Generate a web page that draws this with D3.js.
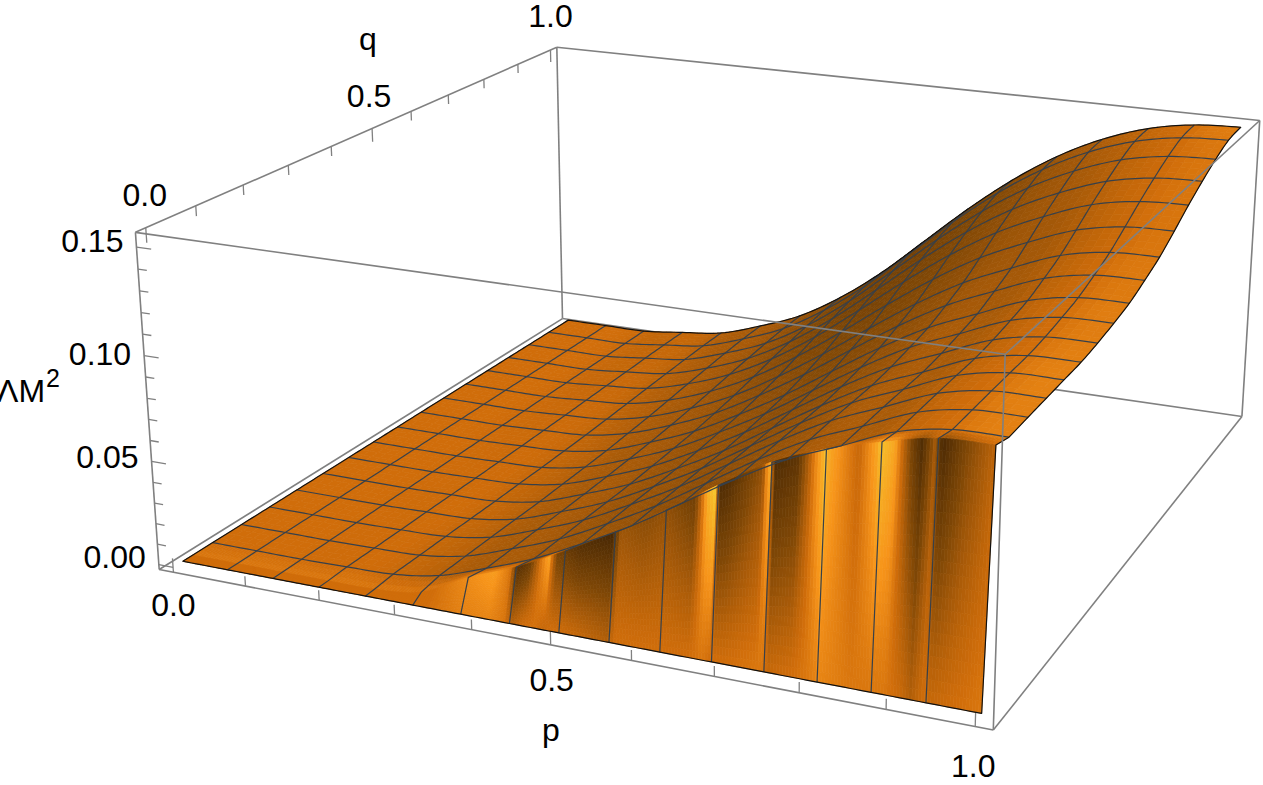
<!DOCTYPE html>
<html>
<head>
<meta charset="utf-8">
<title>Lambda M squared surface</title>
<script src="https://cdnjs.cloudflare.com/ajax/libs/d3/7.8.5/d3.min.js"></script>
<style>
html, body { margin: 0; padding: 0; background: #fff; overflow: hidden; }
text { font-family: "Liberation Sans", Arial, sans-serif; fill: #000; }
</style>
</head>
<body>
<div id="vis"></div>
<script>
var width = 1263,
    height = 785;

var meshCount = 16;
var zRows = [
    [0, 0, 0, .0004, .0010, .0045, .0120, .0205, .0315, .0435, .0575, .0715, .0840, .0935, .1030, .1075, .1079],
    [0, 0, 0, .0004, .0010, .0046, .0121, .0206, .0317, .0438, .0578, .0719, .0844, .0939, .1034, .1079, .1083],
    [0, 0, 0, .0004, .0011, .0047, .0122, .0208, .0320, .0441, .0582, .0723, .0849, .0944, .1038, .1083, .1086],
    [0, 0, 0, .0005, .0011, .0047, .0122, .0208, .0320, .0443, .0584, .0725, .0851, .0946, .1041, .1086, .1089],
    [0, 0, 0, .0005, .0011, .0047, .0123, .0209, .0321, .0444, .0586, .0727, .0853, .0948, .1043, .1088, .1092],
    [0, 0, 0, .0005, .0013, .0050, .0126, .0214, .0327, .0452, .0595, .0738, .0864, .0960, .1054, .1099, .1104],
    [0, 0, 0, .0006, .0014, .0053, .0130, .0220, .0336, .0464, .0610, .0754, .0882, .0979, .1072, .1117, .1122],
    [0, 0, 0, .0007, .0017, .0057, .0135, .0227, .0347, .0479, .0628, .0774, .0903, .1001, .1094, .1139, .1144],
    [0, 0, 0, .0009, .0020, .0065, .0143, .0240, .0365, .0505, .0659, .0809, .0940, .1040, .1131, .1176, .1182],
    [0, 0, 0, .0011, .0025, .0073, .0153, .0255, .0386, .0534, .0694, .0848, .0982, .1084, .1174, .1218, .1225],
    [0, 0, 0, .0014, .0031, .0084, .0166, .0275, .0415, .0574, .0743, .0902, .1039, .1144, .1232, .1276, .1284],
    [0, 0, 0, .0017, .0037, .0096, .0180, .0297, .0445, .0616, .0794, .0959, .1100, .1208, .1294, .1337, .1347],
    [0, 0, 0, .0019, .0043, .0106, .0193, .0316, .0472, .0654, .0840, .1011, .1155, .1265, .1349, .1392, .1403],
    [0, 0, 0, .0022, .0048, .0116, .0204, .0333, .0497, .0688, .0881, .1056, .1203, .1316, .1398, .1441, .1453],
    [0, 0, 0, .0024, .0052, .0123, .0213, .0347, .0515, .0713, .0912, .1091, .1240, .1355, .1435, .1478, .1491],
    [0, 0, 0, .0024, .0053, .0125, .0215, .0350, .0520, .0720, .0920, .1100, .1250, .1365, .1445, .1488, .1501]
];

// the steep rise next to q = 0: rim height per p = k/16 and brightness stripes along p
var wallQ = 0.02;
var wallTopZ = [0, 0, 0, 0, .0002, .0030, .0140, .0228, .0341, .0465, .0601, .0748, .0884, .0975, .1041, .1093, .1101];
var wallP = [0, .33, .375, .41, .43, .44, .455, .47, .48, .49, .52, .56, .57, .60, .625, .66, .675, .685, .69, .70, .74, .7475, .755, .78, .80, .8125, .817, .85, .87, .875, .89, .91, .92, .935, .942, .97, 1];
var wallTopShade = [1, 1, 1.15, 1.25, 1.05, .30, .45, 1.05, 1.30, .55, .30, .20, .75, .65, .70, .50, 1.35, 1.50, .25, .28, .70, 1.40, .25, .35, 1.10, 1.45, 1.30, .95, 1.30, 1.45, 1.30, .50, .25, .80, .20, .60, .90];
var wallFootShade = [1, 1, 1.10, 1.12, 1.05, .85, 1.0, 1.02, .95, 1.0, .95, .85, 1.0, 1.0, 1.0, 1.0, 1.05, 1.0, 1.0, 1.0, 1.05, 1.05, .95, 1.0, 1.05, 1.12, 1.12, 1.05, 1.05, 1.05, 1.05, .95, .85, 1.0, .95, 1.0, 1.05];

var pTicks = d3.range(0, 11).map(function (d) { return d / 10; });
var qTicks = pTicks.slice();
var zTicks = d3.range(0, 16).map(function (d) { return d / 100; });
var pLabels = [0, 0.5, 1];
var qLabels = [0, 0.5, 1];
var zLabels = [0, 0.05, 0.10, 0.15];

var sx = d3.scaleLinear().domain([-0.02, 1.02]).range([0, 1]);
var sy = d3.scaleLinear().domain([-0.02, 1.02]).range([0, 1]);
var sz = d3.scaleLinear().domain([-0.0024, 0.1567]).range([0, 1]);

// the heights above were read against a slightly shorter z range than the ticks show
var zRead = 1.027;

// camera fitted to where the eight box corners land in the picture
var cameraFit = [
    [0, 0, 0, 160, 570], [1, 0, 0, 993, 731], [0, 1, 0, 562, 318], [1, 1, 0, 1242, 416],
    [0, 0, 1, 135, 233], [1, 0, 1, 1005, 352], [0, 1, 1, 557, 47], [1, 1, 1, 1260, 122]
];

function fitCamera(points) {
    var n = 11, rows = [];
    points.forEach(function (c) {
        rows.push([c[0], c[1], c[2], 1, 0, 0, 0, 0, -c[3] * c[0], -c[3] * c[1], -c[3] * c[2], c[3]]);
        rows.push([0, 0, 0, 0, c[0], c[1], c[2], 1, -c[4] * c[0], -c[4] * c[1], -c[4] * c[2], c[4]]);
    });
    var m = d3.range(n).map(function (i) {
        return d3.range(n + 1).map(function (j) {
            return d3.sum(rows, function (r) { return r[i] * r[j]; });
        });
    });
    for (var i = 0; i < n; i++) {
        var best = i;
        for (var r = i + 1; r < n; r++) if (Math.abs(m[r][i]) > Math.abs(m[best][i])) best = r;
        var tmp = m[i]; m[i] = m[best]; m[best] = tmp;
        for (var r2 = 0; r2 < n; r2++) {
            if (r2 === i) continue;
            var f = m[r2][i] / m[i][i];
            for (var c = i; c <= n; c++) m[r2][c] -= f * m[i][c];
        }
    }
    return m.map(function (row, i) { return row[n] / row[i]; });
}
var cam = fitCamera(cameraFit);

function project(p, q, z) {
    var X = sx(p), Y = sy(q), Z = sz(z);
    var w = cam[8] * X + cam[9] * Y + cam[10] * Z + 1;
    return [(cam[0] * X + cam[1] * Y + cam[2] * Z + cam[3]) / w,
            (cam[4] * X + cam[5] * Y + cam[6] * Z + cam[7]) / w];
}

// Catmull-Rom through evenly spaced values, t in 0..1
function smooth(v, t) {
    var n = v.length - 1;
    var i = Math.min(Math.floor(t * n), n - 1);
    var u = t * n - i;
    var a = v[Math.max(i - 1, 0)], b = v[i], c = v[i + 1], d = v[Math.min(i + 2, n)];
    return 0.5 * (2 * b + (c - a) * u + (2 * a - 5 * b + 4 * c - d) * u * u + (3 * b - a - 3 * c + d) * u * u * u);
}

var firstQ = 1 / meshCount;

function upperZ(p, q) {
    var col = zRows.map(function (r) { return smooth(r, p); });
    return smooth(col, (q - firstQ) / (1 - firstQ));
}

function surfaceZ(p, q) {
    if (q >= firstQ) return upperZ(p, q);
    var top = smooth(wallTopZ, p);
    if (q >= wallQ) return top + (upperZ(p, firstQ) - top) * (q - wallQ) / (firstQ - wallQ);
    return top * q / wallQ;
}

function surfacePoint(p, q) {
    return project(p, q, surfaceZ(p, q) * zRead);
}

var shadeColor = d3.scaleLinear()
    .domain([0, .25, .6, 1, 1.2, 1.5])
    .range(["#2e1a03", "#4f2c04", "#7f4706", "#d06d0a", "#f7941a", "#f6c92e"])
    .clamp(true);

var topShade = d3.scaleLinear().domain(wallP).range(wallTopShade);
var footShade = d3.scaleLinear().domain(wallP).range(wallFootShade);

function surfaceShade(p, q) {
    var e = 0.01;
    var gp = (upperZ(Math.min(p + e, 1), q) - upperZ(Math.max(p - e, 0), q)) / (Math.min(p + e, 1) - Math.max(p - e, 0));
    var gq = (upperZ(p, Math.min(q + e, 1)) - upperZ(p, Math.max(q - e, firstQ))) / (Math.min(q + e, 1) - Math.max(q - e, firstQ));
    return 1 - 1.5 * gp - 0.5 * gq + 0.1 * p * p * p;
}

var svg = d3.select("#vis").append("svg")
    .attr("width", width)
    .attr("height", height)
    .attr("viewBox", [0, 0, width, height])
    .style("display", "block");

var boxColor = "#808080";
var lo = -0.02, hi = 1.02, zlo = sz.domain()[0], zhi = sz.domain()[1];

function edge(g, a, b) {
    var pa = project(a[0], a[1], a[2]), pb = project(b[0], b[1], b[2]);
    g.append("line")
        .attr("x1", pa[0]).attr("y1", pa[1])
        .attr("x2", pb[0]).attr("y2", pb[1])
        .attr("stroke", boxColor)
        .attr("stroke-width", 1.6);
}

// back of the box goes under the surface
var back = svg.append("g");
edge(back, [lo, hi, zlo], [hi, hi, zlo]);
edge(back, [lo, lo, zlo], [lo, hi, zlo]);
edge(back, [lo, hi, zlo], [lo, hi, zhi]);
edge(back, [hi, hi, zlo], [hi, hi, zhi]);
edge(back, [lo, hi, zhi], [hi, hi, zhi]);
edge(back, [lo, lo, zhi], [lo, hi, zhi]);
edge(back, [lo, lo, zlo], [lo, lo, zhi]);
edge(back, [lo, lo, zlo], [hi, lo, zlo]);
edge(back, [hi, lo, zlo], [hi, hi, zlo]);

// ticks
var ticks = svg.append("g");
pTicks.forEach(function (d) {
    var major = pLabels.indexOf(d) >= 0;
    edge(ticks, [d, lo, zlo], [d, lo, zlo + (major ? .0068 : .0048)]);
});
qTicks.forEach(function (d) {
    var major = qLabels.indexOf(d) >= 0;
    edge(ticks, [lo, d, zhi], [lo, d, zhi - (major ? .0068 : .0048)]);
});
zTicks.forEach(function (d) {
    var major = d % 0.05 < 1e-9 || d % 0.05 > 0.05 - 1e-9;
    edge(ticks, [lo, lo, d], [lo + (major ? .02 : .012), lo, d]);
});
ticks.selectAll("line").attr("stroke-width", 1.3);

// surface cells, back to front
var cells = [];
var pSteps = meshCount * 5, qSteps = (meshCount - 1) * 4;
d3.range(qSteps - 1, -1, -1).forEach(function (j) {
    var q0 = firstQ + (1 - firstQ) * j / qSteps, q1 = firstQ + (1 - firstQ) * (j + 1) / qSteps;
    d3.range(pSteps).forEach(function (i) {
        var p0 = i / pSteps, p1 = (i + 1) / pSteps;
        cells.push({
            pts: [[p0, q0], [p1, q0], [p1, q1], [p0, q1]].map(function (d) { return surfacePoint(d[0], d[1]); }),
            shade: surfaceShade((p0 + p1) / 2, (q0 + q1) / 2)
        });
    });
});

// rim between the wall top and the first mesh row
var rimSteps = 3;
d3.range(rimSteps - 1, -1, -1).forEach(function (j) {
    var q0 = wallQ + (firstQ - wallQ) * j / rimSteps, q1 = wallQ + (firstQ - wallQ) * (j + 1) / rimSteps;
    d3.range(pSteps * 3).forEach(function (i) {
        var p0 = i / (pSteps * 3), p1 = (i + 1) / (pSteps * 3), pm = (p0 + p1) / 2;
        var t = ((j + 0.5) / rimSteps);
        cells.push({
            pts: [[p0, q0], [p1, q0], [p1, q1], [p0, q1]].map(function (d) { return surfacePoint(d[0], d[1]); }),
            shade: (1 - t) * (0.45 * topShade(pm) + 0.55 * 1.1) + t * surfaceShade(pm, firstQ)
        });
    });
});

// wall stripes
var wallCols = 280, wallRows = 22;
d3.range(wallRows - 1, -1, -1).forEach(function (j) {
    var q0 = wallQ * j / wallRows, q1 = wallQ * (j + 1) / wallRows, t = (j + 0.5) / wallRows;
    d3.range(wallCols).forEach(function (i) {
        var p0 = i / wallCols, p1 = (i + 1) / wallCols, pm = (p0 + p1) / 2;
        cells.push({
            pts: [[p0, q0], [p1, q0], [p1, q1], [p0, q1]].map(function (d) { return surfacePoint(d[0], d[1]); }),
            shade: footShade(pm) + (topShade(pm) - footShade(pm)) * Math.pow(t, 1.1)
        });
    });
});

svg.append("g")
    .attr("stroke-linejoin", "round")
    .selectAll("polygon")
    .data(cells)
    .join("polygon")
    .attr("points", function (d) { return d.pts.join(" "); })
    .attr("fill", function (d) { return shadeColor(d.shade); })
    .attr("stroke", function (d) { return shadeColor(d.shade); })
    .attr("stroke-width", 0.7);

// mesh lines
var line = d3.line();
var fineP = d3.range(0, 161).map(function (d) { return d / 160; });
var fineQ = [0, wallQ].concat(d3.range(0, 121).map(function (d) { return firstQ + (1 - firstQ) * d / 120; }));
var mesh = svg.append("g")
    .attr("fill", "none")
    .attr("stroke", "#37404a")
    .attr("stroke-width", 1.2);
d3.range(1, meshCount).forEach(function (k) {
    var p = k / meshCount;
    mesh.append("path").attr("d", line(fineQ.map(function (q) { return surfacePoint(p, q); })));
    var q = k / meshCount;
    mesh.append("path").attr("d", line(fineP.map(function (p2) { return surfacePoint(p2, q); })));
});

// surface outline
var outline = []
    .concat(fineP.map(function (p) { return surfacePoint(p, 0); }))
    .concat(fineQ.map(function (q) { return surfacePoint(1, q); }))
    .concat(fineP.slice().reverse().map(function (p) { return surfacePoint(p, 1); }))
    .concat(fineQ.slice().reverse().map(function (q) { return surfacePoint(0, q); }));
svg.append("path")
    .attr("d", line(outline) + "Z")
    .attr("fill", "none")
    .attr("stroke", "#111")
    .attr("stroke-width", 1.2)
    .attr("stroke-linejoin", "round");

// front of the box sits over the surface
var front = svg.append("g");
edge(front, [lo, lo, zhi], [hi, lo, zhi]);
edge(front, [hi, lo, zhi], [hi, hi, zhi]);
edge(front, [hi, lo, zlo], [hi, lo, zhi]);

// labels
var fontSize = 32;
function label(str, pos, dx, dy, anchor) {
    return svg.append("text")
        .attr("x", pos[0] + dx)
        .attr("y", pos[1] + dy)
        .attr("text-anchor", anchor || "middle")
        .attr("font-size", fontSize)
        .text(str);
}
var pOffsets = [[0, 44], [1, 46], [-2, 50]];
var qOffsets = [[-1, -22], [-3, -21], [0, -23]];
var zOffsets = [3, 7, 9, 5];
pLabels.forEach(function (d, i) {
    label(d3.format(".1f")(d), project(d, lo, zlo), pOffsets[i][0], pOffsets[i][1]);
});
qLabels.forEach(function (d, i) {
    label(d3.format(".1f")(d), project(lo, d, zhi), qOffsets[i][0], qOffsets[i][1]);
});
zLabels.forEach(function (d, i) {
    label(d3.format(".2f")(d), project(lo, lo, d), -13, zOffsets[i], "end");
});
label("p", [551, 741], 0, 0);
label("q", [368, 50], 0, 0);

var mLabel = svg.append("text")
    .attr("x", -3)
    .attr("y", 402)
    .attr("font-size", fontSize);
mLabel.append("tspan").text("\u039BM");
mLabel.append("tspan").attr("font-size", 25).attr("dy", -15).attr("dx", 1).text("2");
</script>
</body>
</html>
